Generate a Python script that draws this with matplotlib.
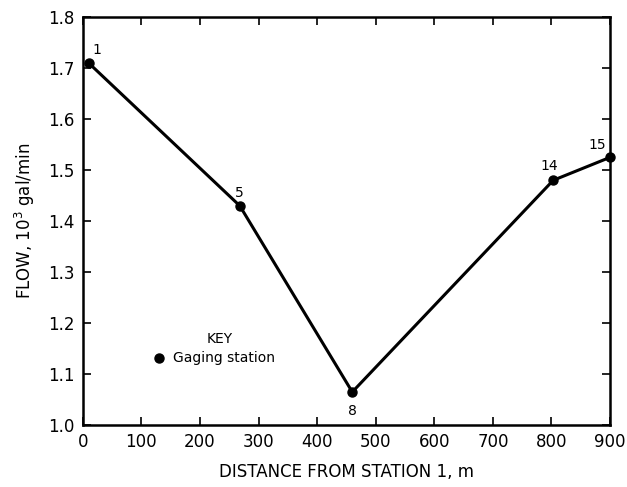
import matplotlib
matplotlib.use('Agg')
import matplotlib.pyplot as plt
import numpy as np

# gaging stations along the stream
stations = ['1', '5', '8', '14', '15']
distance = [10, 268, 460, 803, 900]
flow = [1.71, 1.43, 1.065, 1.48, 1.525]

plt.rcParams['font.family'] = 'DejaVu Sans'
fig = plt.figure(figsize=(6.27, 4.87), dpi=100)
ax = fig.add_axes([0.132, 0.127, 0.841, 0.838])

ax.plot(distance, flow, color='black', lw=2.2, marker='o', ms=6.5, clip_on=False)

# station numbers next to points
offsets = {'1': (6, 9), '5': (0, 9), '8': (0, -14), '14': (-3, 10), '15': (-9, 9)}
for s, x, y in zip(stations, distance, flow):
    dx, dy = offsets[s]
    ax.annotate(s, (x, y), xytext=(dx, dy), textcoords='offset points',
                ha='center', va='center', fontsize=10)

ax.set_xlim(0, 900)
ax.set_ylim(1.0, 1.8)
ax.set_xticks(np.arange(0, 901, 100))
ax.set_yticks(np.arange(1.0, 1.81, 0.1))
ax.set_yticklabels(['%.1f' % v for v in np.arange(1.0, 1.81, 0.1)])
ax.tick_params(direction='in', top=True, right=True, length=6, width=1.2, labelsize=12, pad=6)
for sp in ax.spines.values():
    sp.set_linewidth(1.8)

ax.set_xlabel('DISTANCE FROM STATION 1, m', fontsize=12, labelpad=8)
ax.set_ylabel('FLOW, 10$^3$ gal/min', fontsize=12, labelpad=8)

# key
ax.text(234, 1.169, 'KEY', ha='center', va='center', fontsize=10)
ax.plot([130], [1.131], 'o', color='black', ms=6.5)
ax.text(154, 1.131, 'Gaging station', ha='left', va='center', fontsize=10)

fig.savefig('out.png', dpi=100)
